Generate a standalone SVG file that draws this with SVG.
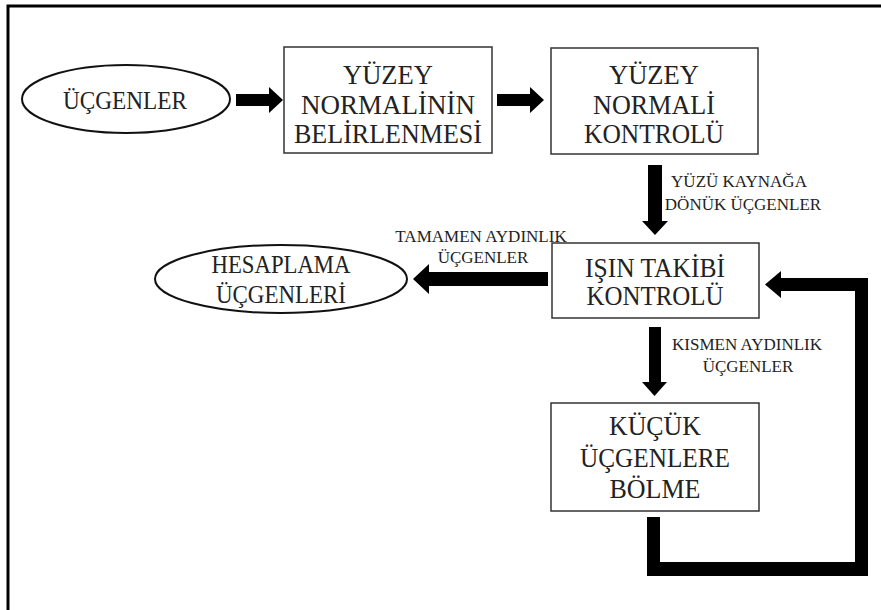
<svg xmlns="http://www.w3.org/2000/svg" width="881" height="610" viewBox="0 0 881 610">
<style>
.box{fill:#fff;stroke:#333;stroke-width:1.5}
.ell{fill:#fff;stroke:#111;stroke-width:2}
.t{font-family:"Liberation Serif","Times New Roman",serif;font-size:27px;fill:#222;text-anchor:middle}
.te{font-family:"Liberation Serif","Times New Roman",serif;font-size:25px;fill:#222;text-anchor:middle}
.lbl{font-family:"Liberation Serif","Times New Roman",serif;font-size:17px;fill:#222;text-anchor:middle}
.arr{fill:#000}
</style>
<rect width="881" height="610" fill="#fff"/>
<path d="M8,610 V6 H881" fill="none" stroke="#000" stroke-width="3"/>
<g id="ucgenler">
<ellipse class="ell" cx="126" cy="99" rx="104" ry="34"/>
<text class="te" x="125" y="109" textLength="124" lengthAdjust="spacingAndGlyphs">ÜÇGENLER</text>
</g>
<g id="normal_belirleme">
<rect class="box" x="284" y="47" width="208" height="106"/>
<text class="t" x="388" y="84" textLength="90" lengthAdjust="spacingAndGlyphs">YÜZEY</text>
<text class="t" x="388" y="114" textLength="174" lengthAdjust="spacingAndGlyphs">NORMALİNİN</text>
<text class="t" x="388" y="143" textLength="188" lengthAdjust="spacingAndGlyphs">BELİRLENMESİ</text>
</g>
<g id="normal_kontrol">
<rect class="box" x="551" y="48" width="207" height="106"/>
<text class="t" x="654" y="84" textLength="90" lengthAdjust="spacingAndGlyphs">YÜZEY</text>
<text class="t" x="654" y="114" textLength="122" lengthAdjust="spacingAndGlyphs">NORMALİ</text>
<text class="t" x="654" y="143" textLength="140" lengthAdjust="spacingAndGlyphs">KONTROLÜ</text>
</g>
<g id="isin_takibi">
<rect class="box" x="552" y="243" width="207" height="75"/>
<text class="t" x="655" y="277" textLength="140" lengthAdjust="spacingAndGlyphs">IŞIN TAKİBİ</text>
<text class="t" x="655" y="305" textLength="137" lengthAdjust="spacingAndGlyphs">KONTROLÜ</text>
</g>
<g id="hesaplama">
<ellipse class="ell" cx="281" cy="279" rx="126" ry="34"/>
<text class="te" x="281" y="273" textLength="139" lengthAdjust="spacingAndGlyphs">HESAPLAMA</text>
<text class="te" x="281" y="303" textLength="130" lengthAdjust="spacingAndGlyphs">ÜÇGENLERİ</text>
</g>
<g id="kucuk">
<rect class="box" x="551" y="403" width="208" height="108"/>
<text class="t" x="655" y="435" textLength="92" lengthAdjust="spacingAndGlyphs">KÜÇÜK</text>
<text class="t" x="655" y="467" textLength="150" lengthAdjust="spacingAndGlyphs">ÜÇGENLERE</text>
<text class="t" x="655" y="498" textLength="91" lengthAdjust="spacingAndGlyphs">BÖLME</text>
</g>
<g id="connectors">
<path class="arr" d="M236,94 H269 V87 L283,100 L269,113 V106 H236 Z"/>
<path class="arr" d="M497,94 H530 V87 L544,100 L530,113 V106 H497 Z"/>
<path class="arr" d="M648,165 H662 V221 H668 L655,235 L642,221 H648 Z"/>
<text class="lbl" x="739" y="187">YÜZÜ KAYNAĞA</text>
<text class="lbl" x="743" y="210">DÖNÜK ÜÇGENLER</text>
<path class="arr" d="M548,272 H429 V264 L413,279 L429,294 V286 H548 Z"/>
<text class="lbl" x="481" y="242">TAMAMEN AYDINLIK</text>
<text class="lbl" x="483" y="263">ÜÇGENLER</text>
<path class="arr" d="M649,327 H661 V382 H667 L654.5,396 L642,382 H649 Z"/>
<text class="lbl" x="747" y="350">KISMEN AYDINLIK</text>
<text class="lbl" x="748" y="372">ÜÇGENLER</text>
<path class="arr" d="M647,517 H660 V562 H855 V291 H781 V298 L765,284.5 L781,271 V278 H868 V576 H647 Z"/>
</g>
</svg>
